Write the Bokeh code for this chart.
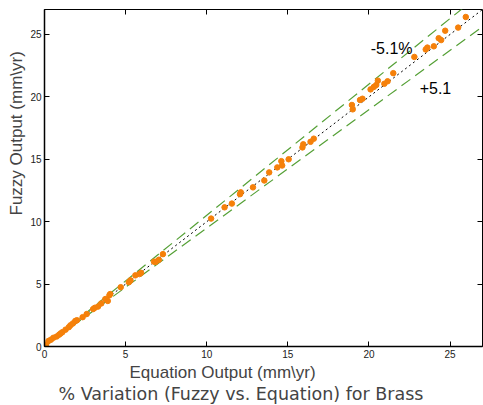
from bokeh.plotting import figure
from bokeh.models import LinearAxis, Label, Range1d, FixedTicker, Title
from bokeh.embed import file_html
from bokeh.resources import INLINE

# Equation output (mm\yr) and fuzzy output (mm\yr) for brass
equation_output = [0.0, 0.1, 0.25, 0.4, 0.55, 0.75, 0.9, 1.0, 1.1, 1.3, 1.5, 1.6, 1.75, 1.9, 2.0,
                   2.35, 2.6, 3.0, 3.1, 3.3, 3.5, 3.75, 3.9, 4.0, 4.05, 4.7, 5.2, 5.3, 5.6, 5.85,
                   5.95, 6.75, 6.85, 7.05, 7.3,
                   10.27, 11.1, 11.55, 12.05, 12.1, 12.85, 13.55, 13.85, 14.35, 14.6, 14.65, 15.05,
                   15.9, 15.95, 16.4, 16.6,
                   18.95, 19.0, 19.45, 19.6, 20.1, 20.3, 20.45, 20.55, 20.95, 21.15, 21.5, 22.8,
                   23.5, 23.6, 24.0, 24.3, 24.45, 24.7, 25.5, 25.97]
fuzzy_output = [0.0, 0.15, 0.45, 0.55, 0.7, 0.8, 0.95, 1.05, 1.15, 1.35, 1.55, 1.7, 1.85, 2.05, 2.1,
                2.35, 2.6, 3.0, 3.1, 3.2, 3.45, 3.8, 3.65, 4.1, 4.2, 4.75, 5.15, 5.3, 5.7, 5.8,
                5.9, 6.8, 6.78, 6.95, 7.4,
                10.25, 11.15, 11.45, 12.2, 12.35, 12.75, 13.3, 13.95, 14.35, 14.85, 14.5, 15.0,
                15.95, 16.2, 16.4, 16.65,
                19.35, 19.0, 19.75, 19.85, 20.6, 20.8, 20.95, 21.3, 21.05, 21.25, 21.9, 23.2,
                23.8, 23.95, 24.05, 24.7, 24.55, 25.3, 25.55, 26.4]

variation_pct = 5.1
axis_max = 27
tick_values = [0, 5, 10, 15, 20, 25]

x_label = "Equation Output (mm\\yr)"
y_label = "Fuzzy Output (mm\\yr)"
title_text = "% Variation (Fuzzy vs. Equation) for Brass"
upper_label = "-5.1%"
lower_label = "+5.1"

p = figure(width=483, height=405, output_backend="svg", toolbar_location=None,
           x_range=Range1d(0, axis_max), y_range=Range1d(0, axis_max),
           min_border_left=44, min_border_right=1, min_border_top=9, min_border_bottom=59)
p.xaxis.visible = False
p.yaxis.visible = False
p.grid.visible = False
p.outline_line_color = "black"
p.outline_line_width = 1
p.background_fill_color = "white"
p.border_fill_color = "white"

font = "Liberation Sans"

def style_axis(ax, labels=True):
    ax.ticker = FixedTicker(ticks=tick_values)
    ax.major_tick_in = 5
    ax.major_tick_out = 0
    ax.minor_tick_line_color = None
    ax.major_tick_line_color = "black"
    ax.axis_line_color = "black"
    ax.axis_line_width = 1.5
    if labels:
        ax.major_label_text_font = font
        ax.major_label_text_font_size = "10px"
        ax.major_label_text_color = "#222222"
        ax.major_label_standoff = 3
    else:
        ax.major_label_overrides = {t: "" for t in tick_values}
        ax.major_label_text_color = None
        ax.major_label_standoff = 0
        ax.axis_line_color = None

bottom = LinearAxis()
style_axis(bottom)
left = LinearAxis()
style_axis(left)
top = LinearAxis()
style_axis(top, labels=False)
right = LinearAxis()
style_axis(right, labels=False)
p.add_layout(bottom, "below")
p.add_layout(left, "left")
p.add_layout(top, "above")
p.add_layout(right, "right")

# axis titles and caption (placed as titles so they can sit off-centre like the reference)
p.add_layout(Title(text=x_label, align="left", offset=85, text_font=font,
                   text_font_size="17px", text_font_style="normal", standoff=0), "below")
p.add_layout(Title(text=title_text, align="left", offset=14, text_font="DejaVu Sans",
                   text_font_size="17.5px", text_font_style="normal", standoff=0), "below")
p.add_layout(Title(text=y_label, align="left", offset=131, text_font=font,
                   text_font_size="17px", text_font_style="normal", standoff=4), "left")

# reference lines y = x and +/- variation
line_x = [0, axis_max]
f = variation_pct / 100.0
p.line(line_x, [v * (1 + f) for v in line_x], line_color="#55a036", line_width=1.2, line_dash="11 6")
p.line(line_x, [v * (1 - f) for v in line_x], line_color="#55a036", line_width=1.2, line_dash="11 6")
p.line(line_x, line_x, line_color="black", line_width=1, line_dash="2 3")

p.scatter(equation_output, fuzzy_output, size=5.5, fill_color="#f5800a", line_color="#f5800a")

p.add_layout(Label(x=21.4, y=23.9, text=upper_label, text_font=font, text_font_size="16px",
                   text_align="center", text_baseline="middle", text_color="black"))
p.add_layout(Label(x=24.1, y=20.7, text=lower_label, text_font=font, text_font_size="16px",
                   text_align="center", text_baseline="middle", text_color="black"))

open("out.html", "w").write(file_html(p, INLINE))
